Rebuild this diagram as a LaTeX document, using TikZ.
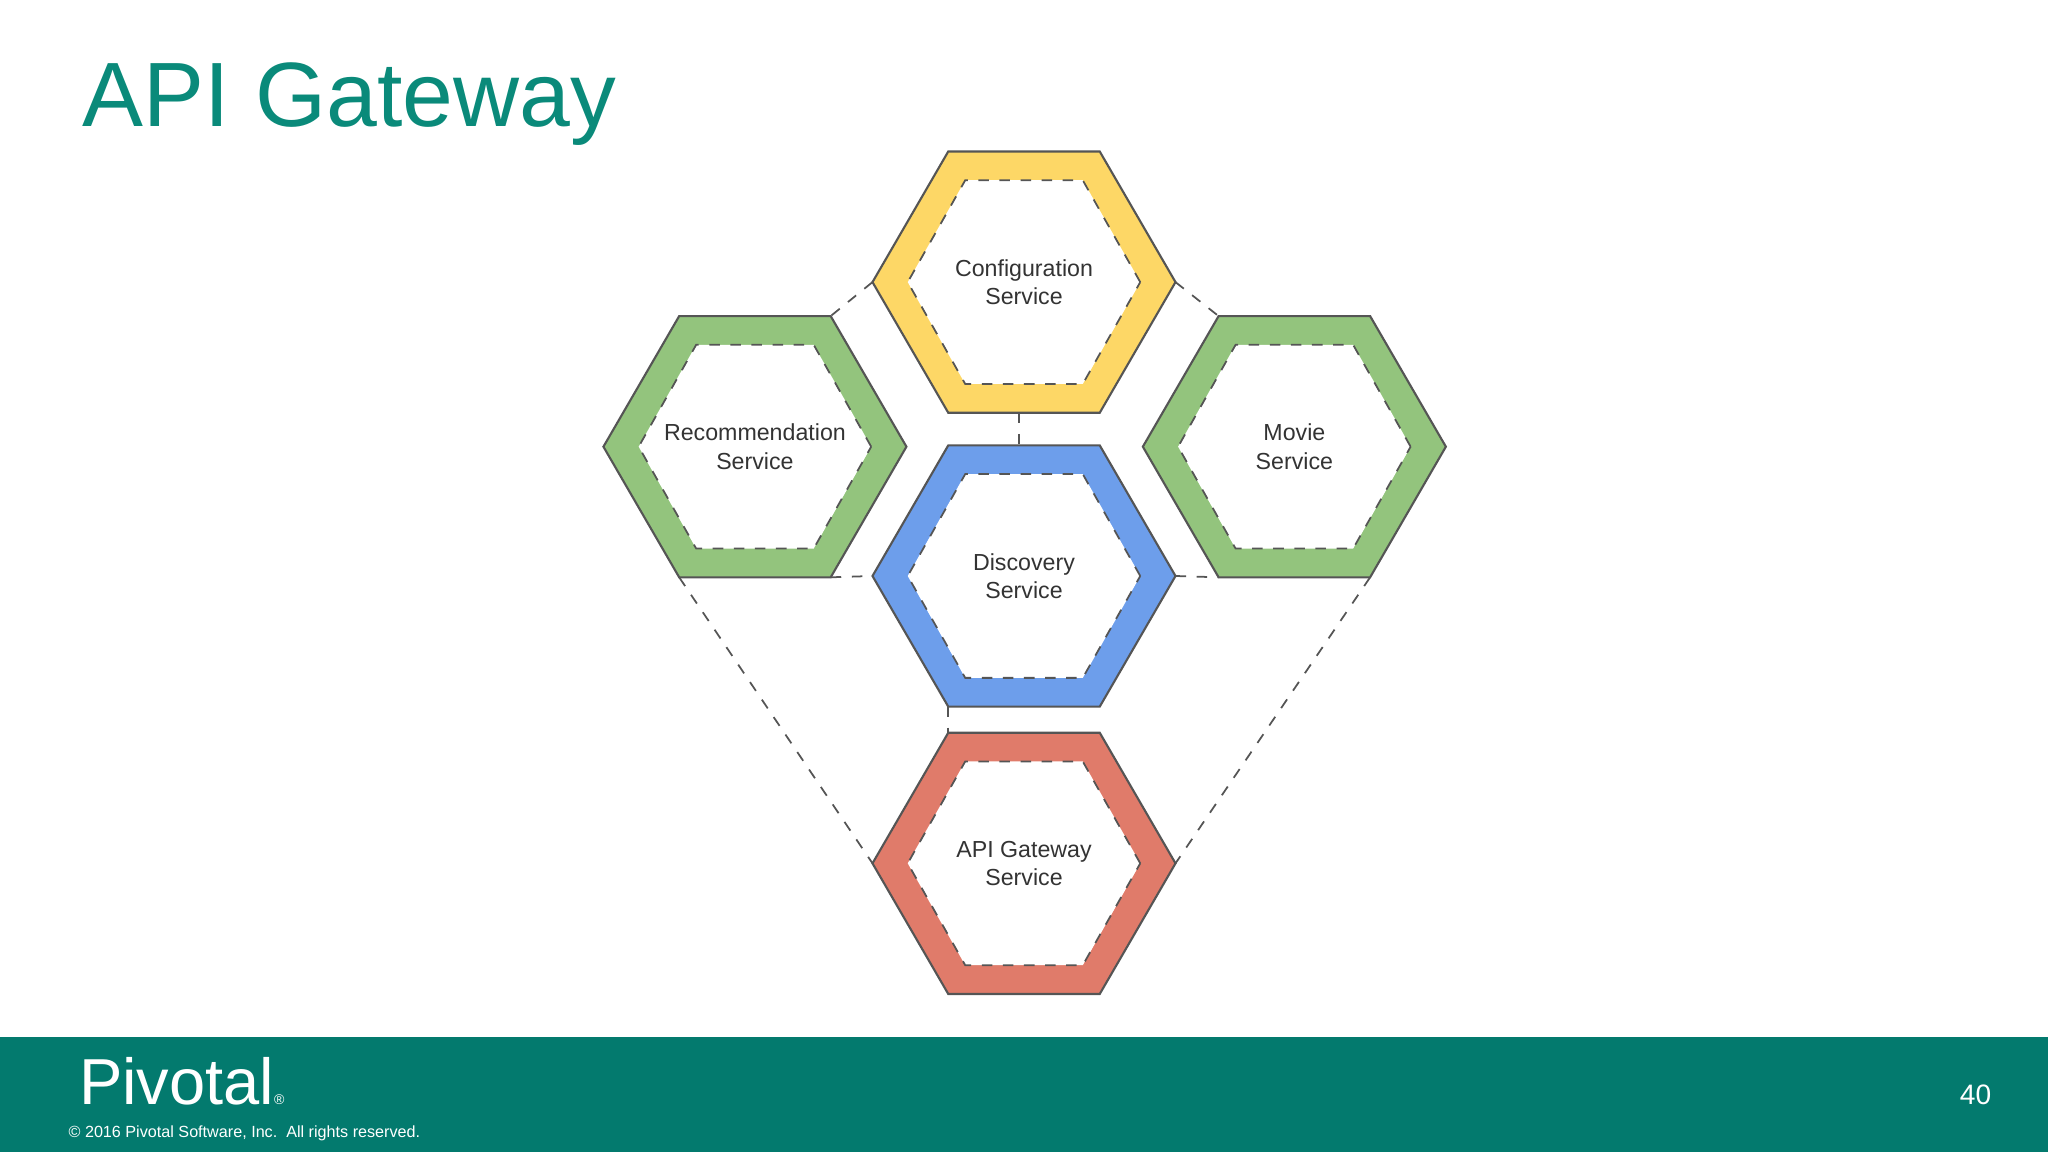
\documentclass[tikz,border=0pt]{standalone}
\usepackage{fontspec}
\setmainfont{Liberation Sans}
\definecolor{teal1}{HTML}{037A6E}
\definecolor{titlec}{HTML}{0A8A7A}
\definecolor{hy}{HTML}{FDD766}
\definecolor{hg}{HTML}{93C47D}
\definecolor{hb}{HTML}{6D9EEB}
\definecolor{hr}{HTML}{E07B6A}
\definecolor{edge}{HTML}{555555}
\tikzset{
 hexring/.style={draw=edge,line width=0.6pt},
 hexinner/.style={fill=white,draw=edge,dashed,line width=0.5pt},
 hextext/.style={align=center,inner sep=0pt,font=\fontsize{6.6}{8}\selectfont,text=black!80},
 link/.style={draw=edge,dashed,line width=0.5pt}
}
\newcommand\myhex[5]{%
 \coordinate (#1) at (#2,#3);
 \coordinate (#1-r) at ({#2+116},#3);
 \coordinate (#1-tr) at ({#2+58},{#3-100});
 \coordinate (#1-tl) at ({#2-58},{#3-100});
 \coordinate (#1-l) at ({#2-116},#3);
 \coordinate (#1-bl) at ({#2-58},{#3+100});
 \coordinate (#1-br) at ({#2+58},{#3+100});
 \coordinate (#1-bm) at ({#2-4},{#3+100});
 \coordinate (#1-tm) at ({#2-4},{#3-100});
 \draw[hexring,fill=#4] (#1-r)--(#1-tr)--(#1-tl)--(#1-l)--(#1-bl)--(#1-br)--cycle;
 \draw[hexinner] ({#2+89},#3)--({#2+45},{#3-78})--({#2-45},{#3-78})--({#2-89},#3)--({#2-45},{#3+78})--({#2+45},{#3+78})--cycle;
 \node[hextext] (#1-t) at (#2,#3) {#5};
}
\begin{document}
\begin{tikzpicture}[x=0.013061cm,y=-0.013061cm]
\useasboundingbox (0,0) rectangle (1568,882);
\fill[teal1] (0,794) rectangle (1568,882);
\node[anchor=base west,inner sep=0,text=titlec,font=\fontsize{26}{30}\selectfont] (title) at (63,97) {API Gateway};
\node[anchor=base west,inner sep=0,text=white,font=\fontsize{18.5}{20}\selectfont] (logo) at (60,846) {Pivotal\raisebox{0pt}{\fontsize{4}{4}\selectfont ®}};
\node[anchor=base west,inner sep=0,text=white,font=\fontsize{4.6}{5}\selectfont] (copy) at (52,871) {© 2016 Pivotal Software, Inc.\ \ All rights reserved.};
\node[anchor=base east,inner sep=0,text=white,font=\fontsize{8}{9}\selectfont] (pg) at (1525,846) {40};
\myhex{cfg}{784}{216}{hy}{Configuration\\Service}
\myhex{rec}{578}{342}{hg}{Recommendation\\Service}
\myhex{mov}{991}{342}{hg}{Movie\\Service}
\myhex{dis}{784}{441}{hb}{Discovery\\Service}
\myhex{api}{784}{661}{hr}{API Gateway\\Service}
\draw[link] (cfg-l) -- (rec-tr);
\draw[link] (cfg-r) -- (mov-tl);
\draw[link] (cfg-bm) -- (dis-tm);
\draw[link] (rec-br) -- (dis-l);
\draw[link] (dis-r) -- (mov-bl);
\draw[link] (dis-bl) -- (api-tl);
\draw[link] (rec-bl) -- (api-l);
\draw[link] (mov-br) -- (api-r);
\end{tikzpicture}
\end{document}
